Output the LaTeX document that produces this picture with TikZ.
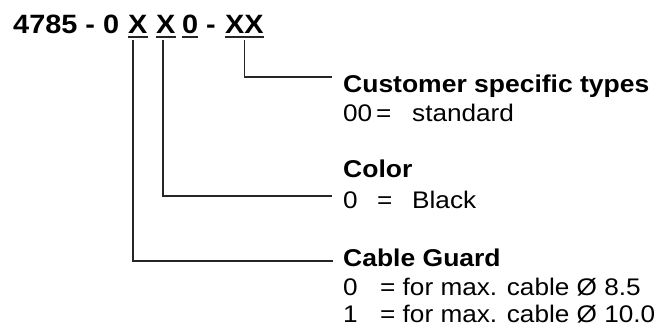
\documentclass[tikz,border=0pt]{standalone}
\usepackage{fontspec}
\setmainfont[FakeStretch=1.09]{Liberation Sans}
\begin{document}
\begin{tikzpicture}[x=1pt,y=1pt,
  ttl/.style={font=\fontsize{26.5}{30}\selectfont\bfseries, inner sep=0pt, anchor=base west},
  hd/.style={font=\fontsize{24.3}{28}\selectfont\bfseries, inner sep=0pt, anchor=base west},
  tx/.style={font=\fontsize{24}{28}\selectfont, inner sep=0pt, anchor=base west},
  ln/.style={line width=1.7pt, draw=black!85},
  ul/.style={line width=1.8pt, draw=black!85}]
\useasboundingbox (0,0) rectangle (657,-327);
% title code
\node[ttl] (t0) at (13,-33) {4785 - 0};
\node[ttl] (x1) at (128,-33) {X};
\node[ttl] (x2) at (156,-33) {X};
\node[ttl] (z) at (182,-33) {0};
\node[ttl] (d) at (206,-33) {-};
\node[ttl] (xx) at (225,-33) {XX};
\foreach \n in {x1,x2,z,xx}
  \draw[ul] ([yshift=-3.6pt]\n.south west) -- ([yshift=-3.6pt]\n.south east);
% customer block
\node[hd] (h1) at (343,-92) {Customer specific types};
\node[tx] (a1) at (343,-121) {00};
\node[tx] (a2) at (376,-121) {=};
\node[tx] (a3) at (412,-121) {standard};
% color block
\node[hd] (h2) at (343,-177) {Color};
\node[tx] (b1) at (343,-208) {0};
\node[tx] (b2) at (377,-208) {=};
\node[tx] (b3) at (412,-208) {Black};
% cable guard block
\node[hd] (h3) at (343,-266) {Cable Guard};
\node[tx] (c1) at (343,-295) {0};
\node[tx] (c2) at (380,-295) {= for max. cable Ø 8.5};
\node[tx] (d1) at (343,-322) {1};
\node[tx] (d2) at (380,-322) {= for max. cable Ø 10.0};
% connectors
\coordinate (e1) at (332,-77);
\coordinate (e2) at (332,-196);
\coordinate (e3) at (333,-261);
\draw[ln] ([yshift=-7pt]xx.south) |- (e1);
\draw[ln] ([xshift=-2.5pt,yshift=-7pt]x2.south) |- (e2);
\draw[ln] ([xshift=-4.5pt,yshift=-7pt]x1.south) |- (e3);
\end{tikzpicture}
\end{document}
